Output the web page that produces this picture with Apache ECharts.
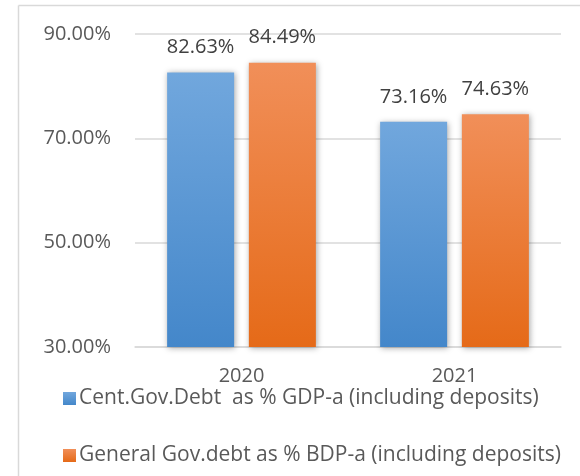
<!DOCTYPE html>
<html>
<head>
<meta charset="utf-8">
<script src="https://cdn.jsdelivr.net/npm/echarts@6/dist/echarts.min.js"></script>
<style>
html,body{margin:0;padding:0;background:#fff;}
#c{width:580px;height:476px;}
</style>
</head>
<body>
<div id="c"></div>
<script>
var categories = ['2020', '2021'];
var seriesNames = ['Cent.Gov.Debt  as % GDP-a (including deposits)', 'General Gov.debt as % BDP-a (including deposits)'];
var centGovDebt = [82.63, 73.16];
var generalGovDebt = [84.49, 74.63];
var yTicks = [30, 50, 70, 90];

var FONT = 'Open Sans';
var TXT = '#595959';

function grad(top, bottom) {
  return new echarts.graphic.LinearGradient(0, 0, 0, 1, [
    {offset: 0, color: top}, {offset: 1, color: bottom}
  ]);
}

var chart = echarts.init(document.getElementById('c'), null, {renderer: 'canvas'});
chart.setOption({
  animation: false,
  backgroundColor: '#fff',
  textStyle: {fontFamily: FONT},
  grid: {left: 135, right: 19, top: 34, bottom: 129},
  graphic: [
    {type: 'line', shape: {x1: 18.5, y1: 5.5, x2: 580, y2: 5.5}, style: {stroke: '#d9d9d9', lineWidth: 1.5}},
    {type: 'line', shape: {x1: 18.5, y1: 5.5, x2: 18.5, y2: 476}, style: {stroke: '#d9d9d9', lineWidth: 1.5}}
  ],
  legend: {
    orient: 'vertical',
    left: 58,
    top: 383,
    itemWidth: 13,
    itemHeight: 13,
    itemGap: 36,
    icon: 'rect',
    textStyle: {fontFamily: FONT, fontSize: 21, color: TXT, padding: [0, 0, 0, -2]},
    data: seriesNames
  },
  xAxis: {
    type: 'category',
    data: categories,
    axisLine: {lineStyle: {color: '#d9d9d9', width: 1.5}},
    axisTick: {show: false},
    axisLabel: {color: TXT, fontFamily: FONT, fontSize: 20, margin: 19}
  },
  yAxis: {
    type: 'value',
    min: yTicks[0],
    max: yTicks[yTicks.length - 1],
    interval: yTicks[1] - yTicks[0],
    axisLine: {show: false},
    axisTick: {show: false},
    splitLine: {lineStyle: {color: '#d9d9d9', width: 1.5}},
    axisLabel: {
      color: TXT, fontFamily: FONT, fontSize: 20, margin: 24,
      formatter: function (v) { return v.toFixed(2) + '%'; }
    }
  },
  series: [
    {
      name: seriesNames[0],
      type: 'bar',
      data: centGovDebt,
      barWidth: 67,
      barGap: '22%',
      itemStyle: {
        color: grad('#71a7dd', '#4487ca'),
        shadowBlur: 6, shadowColor: 'rgba(0,0,0,0.35)', shadowOffsetX: 1, shadowOffsetY: 1
      },
      label: {
        show: true, position: 'top', distance: 15,
        color: '#404040', fontFamily: FONT, fontSize: 20,
        formatter: function (p) { return p.value.toFixed(2) + '%'; }
      }
    },
    {
      name: seriesNames[1],
      type: 'bar',
      data: generalGovDebt,
      barWidth: 67,
      itemStyle: {
        color: grad('#f18f59', '#e56a18'),
        shadowBlur: 6, shadowColor: 'rgba(0,0,0,0.35)', shadowOffsetX: 1, shadowOffsetY: 1
      },
      label: {
        show: true, position: 'top', distance: 15,
        color: '#404040', fontFamily: FONT, fontSize: 20,
        formatter: function (p) { return p.value.toFixed(2) + '%'; }
      }
    }
  ]
});
</script>
</body>
</html>
